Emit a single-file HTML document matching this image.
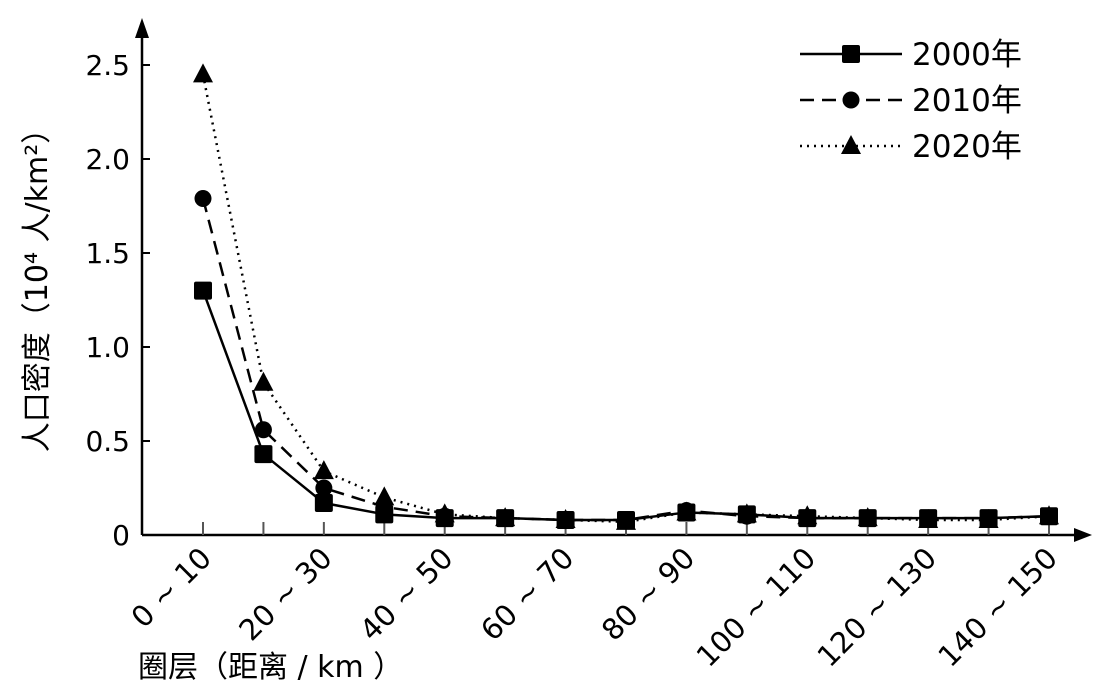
<!DOCTYPE html>
<html><head><meta charset="utf-8"><style>
html,body{margin:0;padding:0;background:#fff;}
svg{display:block;font-family:"DejaVu Sans","Noto Sans CJK SC",sans-serif;}
</style></head><body>
<svg id="c" width="1110" height="696"></svg>
<script>
const categories=["0~10","10~20","20~30","30~40","40~50","50~60","60~70","70~80","80~90","90~100","100~110","110~120","120~130","130~140","140~150"];
const s2000=[1.30,0.43,0.17,0.11,0.09,0.09,0.08,0.08,0.12,0.11,0.09,0.09,0.09,0.09,0.10];
const s2010=[1.79,0.56,0.25,0.15,0.10,0.09,0.08,0.08,0.13,0.10,0.09,0.09,0.09,0.09,0.10];
const s2020=[2.45,0.81,0.34,0.20,0.11,0.09,0.08,0.07,0.12,0.11,0.10,0.09,0.08,0.08,0.10];
const yTicks=[0,0.5,1.0,1.5,2.0,2.5];
const yTickLabels=["0","0.5","1.0","1.5","2.0","2.5"];
const NS="http://www.w3.org/2000/svg";
const svg=document.getElementById('c');
function X(i){return 203+i*(1049-203)/(categories.length-1);}
function Y(v){return 535-v*188;}
function el(t,a,p){const e=document.createElementNS(NS,t);for(const k in a)e.setAttribute(k,a[k]);(p||svg).appendChild(e);return e;}
let ax=el('g',{});


el('line',{x1:142,y1:535,x2:1080,y2:535,stroke:'#000','stroke-width':2.5},ax);
el('polygon',{points:'1092,535 1074,528 1074,542',fill:'#000'},ax);
el('line',{x1:142,y1:535,x2:142,y2:30,stroke:'#000','stroke-width':2.5},ax);
el('polygon',{points:'142,18 135,38 149,38',fill:'#000'},ax);
yTicks.forEach((v,i)=>{
  el('line',{x1:142,y1:Y(v),x2:150,y2:Y(v),stroke:'#000','stroke-width':2},ax);
  const t=el('text',{x:130,y:Y(v)+10,'text-anchor':'end','font-size':28},ax);
  
  
  t.textContent=yTickLabels[i];
});
categories.forEach((c,i)=>{
  el('line',{x1:X(i),y1:522,x2:X(i),y2:535,stroke:'#555','stroke-width':2},ax);
  if(i%2===0){
    const lab=c.replace('~',' ~ ');
    const t=el('text',{x:X(i)+10,y:560,'text-anchor':'end','font-size':29,transform:`rotate(-45 ${X(i)+10} 560)`},ax);
    
    
    t.textContent=lab;
  }
});
let yt=el('text',{x:47,y:283,'text-anchor':'middle','font-size':30,transform:'rotate(-90 47 283)'});


yt.textContent='人口密度（10⁴ 人/km²）';
let xt=el('text',{x:138,y:677,'font-size':30});


xt.textContent='圈层（距离 / km ）';
function marker(g,type,x,y){
  if(type==='sq')el('rect',{x:x-9,y:y-9,width:18,height:18,rx:2,fill:'#000'},g);
  else if(type==='ci')el('circle',{cx:x,cy:y,r:8.5,fill:'#000'},g);
  else el('polygon',{points:`${x},${y-11} ${x-10},${y+8} ${x+10},${y+8}`,fill:'#000'},g);
}
const series=[[s2020,'2,5','tr','series-2020'],[s2010,'14,8','ci','series-2010'],[s2000,'','sq','series-2000']];
series.forEach(([d,dash,m,name])=>{
  const g=el('g',{});
  
  
  el('polyline',{points:d.map((v,i)=>X(i)+','+Y(v)).join(' '),fill:'none',stroke:'#000','stroke-width':2.5,'stroke-dasharray':dash||'none'},g);
  d.forEach((v,i)=>marker(g,m,X(i),Y(v)));
});
const leg=[['2000年','','sq',54],['2010年','14,8','ci',100],['2020年','2,5','tr',146]];
leg.forEach(([lab,dash,m,y])=>{
  const g=el('g',{});
  
  
  el('line',{x1:800,y1:y,x2:902,y2:y,stroke:'#000','stroke-width':2.5,'stroke-dasharray':dash||'none'},g);
  marker(g,m,851,y);
  const t=el('text',{x:912,y:y+11,'font-size':31},g);
  t.textContent=lab;
});
</script>
</body></html>
